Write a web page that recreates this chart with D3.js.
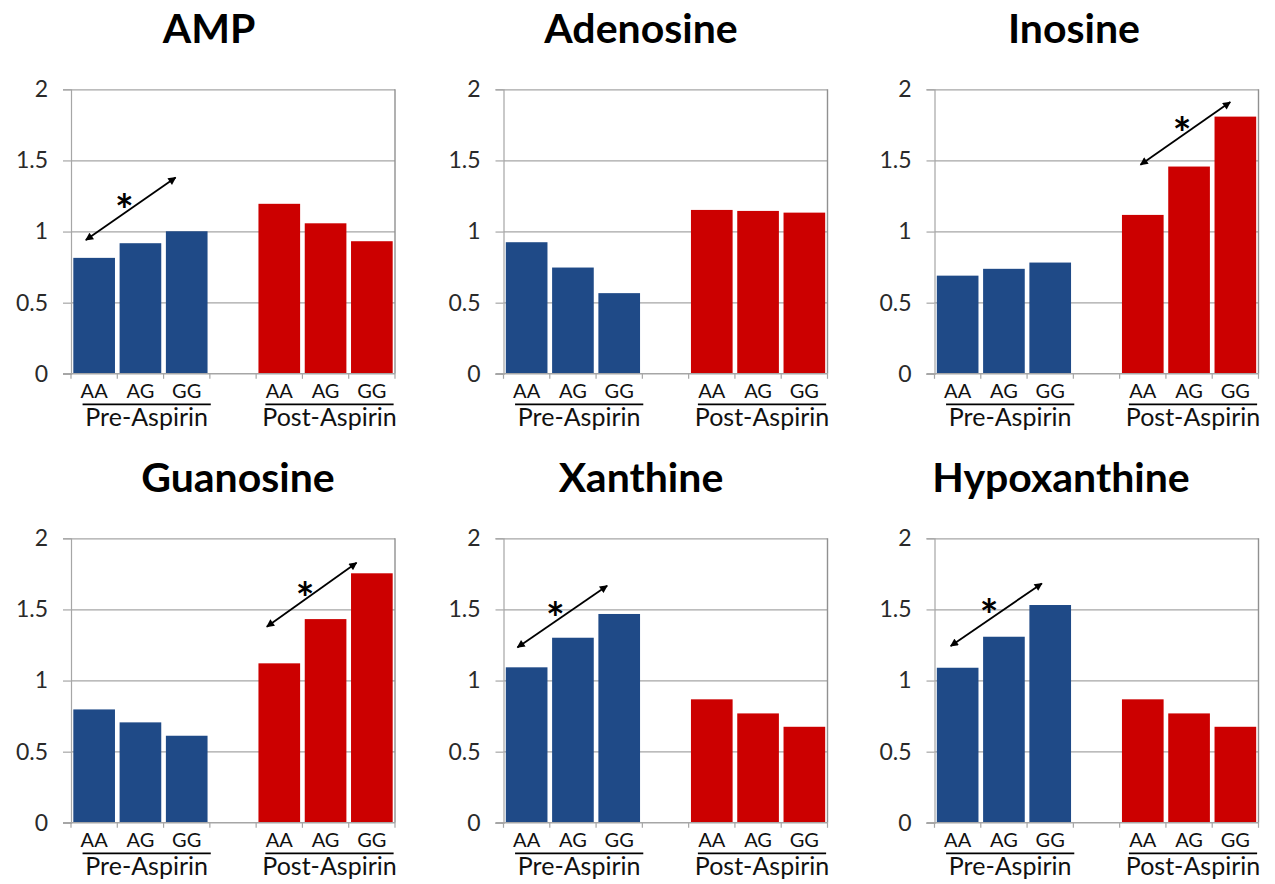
<!DOCTYPE html>
<html>
<head>
<meta charset="utf-8">
<script src="https://cdn.jsdelivr.net/npm/d3@7"></script>
<style>
  html, body { margin: 0; padding: 0; background: #fff; }
  svg { display: block; }
  text { font-family: Lato, "Open Sans", "DejaVu Sans", sans-serif; }
</style>
</head>
<body>
<svg id="chart" width="1275" height="884"></svg>
<script>
// ---------------- data ----------------
const metabolites = ["AMP", "Adenosine", "Inosine", "Guanosine", "Xanthine", "Hypoxanthine"];
const genotypes = ["AA", "AG", "GG"];
const groups = ["Pre-Aspirin", "Post-Aspirin"];
const preValues = [
  [0.815, 0.918, 1.002],
  [0.925, 0.747, 0.567],
  [0.690, 0.738, 0.782],
  [0.797, 0.706, 0.612],
  [1.093, 1.301, 1.468],
  [1.090, 1.308, 1.531]
];
const postValues = [
  [1.195, 1.058, 0.932],
  [1.152, 1.145, 1.133],
  [1.117, 1.457, 1.808],
  [1.121, 1.432, 1.754],
  [0.868, 0.769, 0.675],
  [0.868, 0.769, 0.675]
];
const yTicks = [0, 0.5, 1, 1.5, 2];
const yTickLabels = ["0", "0.5", "1", "1.5", "2"];
// significance arrows (category units, value units)
const sigPanels = [0, 2, 3, 4, 5];
const sigStart = [[0.32, 0.94], [4.45, 1.47], [4.23, 1.378], [0.30, 1.233], [0.35, 1.243]];
const sigEnd   = [[2.26, 1.38], [6.39, 1.91], [6.17, 1.828], [2.24, 1.667], [2.32, 1.683]];
const sigStar  = [[1.15, 1.21], [5.35, 1.75], [5.06, 1.636], [1.12, 1.496], [1.18, 1.515]];

// ---------------- layout ----------------
const colLeft = [71, 503.5, 934.5];
const rowTop = [89.3, 538.3];
const W = 324, H = 284.5;
const titleCenters = [209, 641, 1074, 238, 641, 1061];
const blue = "#1f4a87", red = "#cc0000", grid = "#a6a6a6";

const svg = d3.select("#chart");
const defs = svg.append("defs");
defs.append("marker")
  .attr("id", "ah")
  .attr("viewBox", "0 0 10 10")
  .attr("refX", 9).attr("refY", 5)
  .attr("markerWidth", 9).attr("markerHeight", 8)
  .attr("markerUnits", "userSpaceOnUse")
  .attr("orient", "auto-start-reverse")
  .append("path").attr("d", "M0,0 L10,5 L0,10 z").attr("fill", "#000");

const slots = ["Pre|AA", "Pre|AG", "Pre|GG", "gap", "Post|AA", "Post|AG", "Post|GG"];
const x = d3.scaleBand().domain(slots).range([0, W]).paddingInner(0.1).paddingOuter(0.05);
const xc = d3.scaleLinear().domain([0, 7]).range([0, W]);
const y = d3.scaleLinear().domain([0, 2]).range([H, 0]);

metabolites.forEach((name, i) => {
  const col = i % 3, row = Math.floor(i / 3);
  const g = svg.append("g").attr("transform", `translate(${colLeft[col]},${rowTop[row]})`);

  // title
  svg.append("text")
    .attr("x", titleCenters[i]).attr("y", rowTop[row] - 46)
    .attr("text-anchor", "middle")
    .attr("font-size", 41).attr("font-weight", "bold").attr("fill", "#000")
    .text(name);

  // gridlines
  g.append("g").selectAll("line").data(yTicks.filter(v => v > 0)).join("line")
    .attr("x1", 0).attr("x2", W)
    .attr("y1", d => Math.round(y(d)) + 0.5).attr("y2", d => Math.round(y(d)) + 0.5)
    .attr("stroke", grid).attr("stroke-width", 1.2);

  // right border
  g.append("line").attr("x1", W).attr("x2", W).attr("y1", y(2)).attr("y2", H)
    .attr("stroke", "#909090").attr("stroke-width", 1.4);

  // y axis
  const yAxis = d3.axisLeft(y).tickValues(yTicks).tickSize(8).tickPadding(15)
    .tickFormat((d, k) => yTickLabels[k]);
  const ya = g.append("g").call(yAxis);
  ya.select(".domain").attr("stroke", grid).attr("stroke-width", 1.2);
  ya.selectAll(".tick line").attr("stroke", grid).attr("stroke-width", 1.2);
  ya.selectAll(".tick text").attr("font-size", 23).attr("fill", "#2a2a2a")
    .style("font-family", "Lato, 'Open Sans', sans-serif");

  // bars
  const vals = [];
  genotypes.forEach((gt, k) => vals.push({ slot: "Pre|" + gt, v: preValues[i][k], c: blue }));
  genotypes.forEach((gt, k) => vals.push({ slot: "Post|" + gt, v: postValues[i][k], c: red }));
  g.append("g").selectAll("rect").data(vals).join("rect")
    .attr("x", d => x(d.slot)).attr("width", x.bandwidth())
    .attr("y", d => y(d.v)).attr("height", d => H - y(d.v))
    .attr("fill", d => d.c);

  // x axis line and boundary ticks
  g.append("line").attr("x1", -8).attr("x2", W).attr("y1", H).attr("y2", H)
    .attr("stroke", grid).attr("stroke-width", 1.4);
  g.append("g").selectAll("line").data(d3.range(0, 8)).join("line")
    .attr("x1", d => xc(d)).attr("x2", d => xc(d))
    .attr("y1", H).attr("y2", H + 5)
    .attr("stroke", grid).attr("stroke-width", 1.2);

  // category labels
  const labelSlots = slots.filter(s => s !== "gap");
  g.append("g").selectAll("text").data(labelSlots).join("text")
    .attr("x", d => x(d) + x.bandwidth() / 2).attr("y", H + 24)
    .attr("text-anchor", "middle").attr("font-size", 20).attr("fill", "#111")
    .text(d => d.split("|")[1]);

  // group lines and labels
  const groupSpan = [[0.25, 3.02], [4.2, 6.97]];
  groups.forEach((gn, k) => {
    const [a, b] = groupSpan[k];
    g.append("line").attr("x1", xc(a)).attr("x2", xc(b))
      .attr("y1", H + 30.5).attr("y2", H + 30.5)
      .attr("stroke", "#000").attr("stroke-width", 1.7);
    g.append("text").attr("x", (xc(a) + xc(b)) / 2).attr("y", H + 52)
      .attr("text-anchor", "middle").attr("font-size", 25).attr("fill", "#111")
      .text(gn);
  });

  // significance arrow
  const si = sigPanels.indexOf(i);
  if (si >= 0) {
    g.append("line")
      .attr("x1", xc(sigStart[si][0])).attr("y1", y(sigStart[si][1]))
      .attr("x2", xc(sigEnd[si][0])).attr("y2", y(sigEnd[si][1]))
      .attr("stroke", "#000").attr("stroke-width", 1.8)
      .attr("marker-start", "url(#ah)").attr("marker-end", "url(#ah)");
    g.append("text")
      .attr("x", xc(sigStar[si][0])).attr("y", y(sigStar[si][1]) + 24)
      .attr("text-anchor", "middle").attr("font-size", 44).attr("font-weight", "bold")
      .attr("fill", "#000").text("*");
  }
});
</script>
</body>
</html>
